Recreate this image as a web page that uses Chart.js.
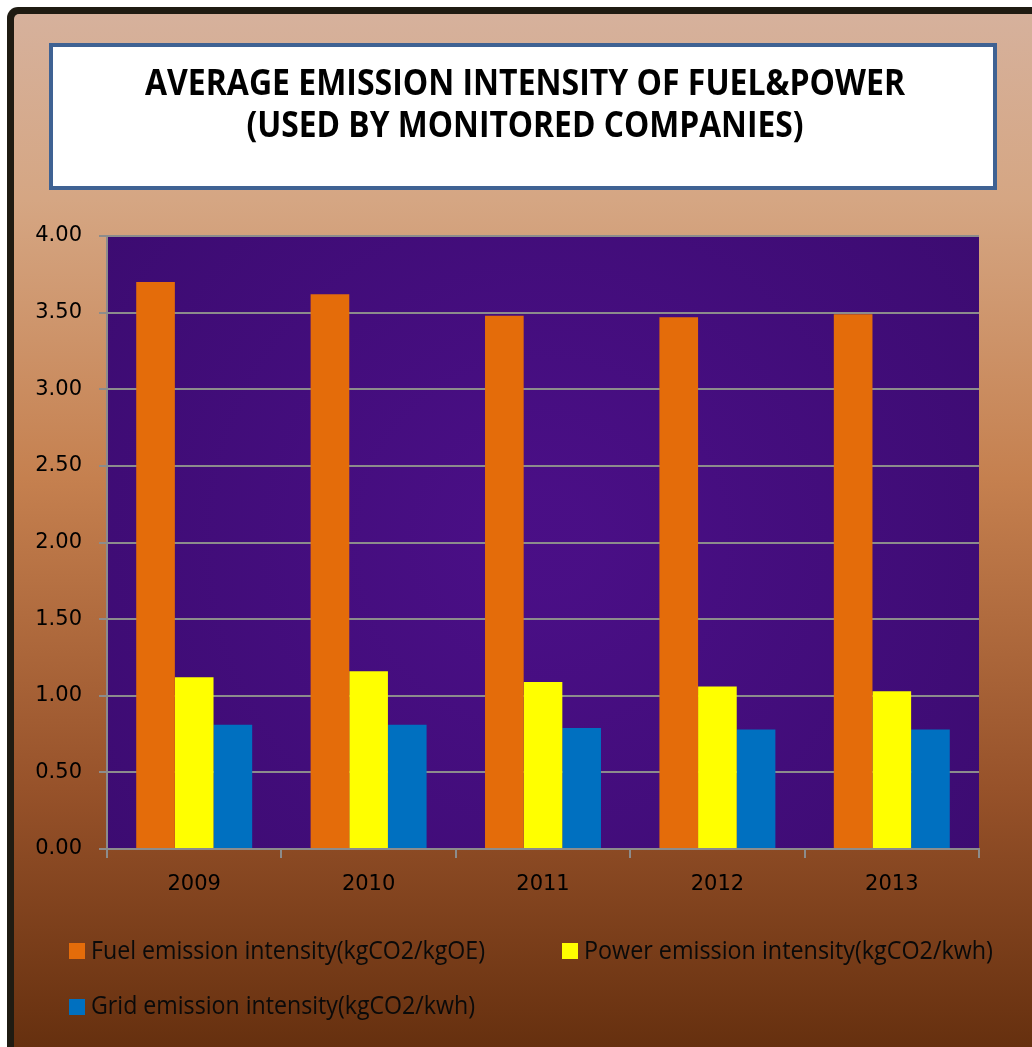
<!DOCTYPE html>
<html>
<head>
<meta charset="utf-8">
<script src="https://cdn.jsdelivr.net/npm/chart.js@4.4.0/dist/chart.umd.min.js"></script>
<style>
  html, body { margin: 0; padding: 0; background: #ffffff; }
  canvas { display: block; }
</style>
</head>
<body>
<canvas id="c" width="1032" height="1047"></canvas>
<script>
// ---- data ----
const years = ['2009', '2010', '2011', '2012', '2013'];
const fuelIntensity = [3.70, 3.62, 3.48, 3.47, 3.49];
const powerIntensity = [1.12, 1.16, 1.09, 1.06, 1.03];
const gridIntensity = [0.81, 0.81, 0.79, 0.78, 0.78];
const seriesNames = [
  'Fuel emission intensity(kgCO2/kgOE)',
  'Power emission intensity(kgCO2/kwh)',
  'Grid emission intensity(kgCO2/kwh)'
];
const titleLines = ['AVERAGE EMISSION INTENSITY OF FUEL&POWER', '(USED BY MONITORED COMPANIES)'];
const yTickMin = 0, yTickMax = 4, yTickStep = 0.5;

// ---- styles ----
const colors = ['#E46C0A', '#FFFF00', '#0070C0'];
const W = 1032, H = 1047;

const decor = {
  id: 'decor',
  beforeDraw(chart) {
    const ctx = chart.ctx;
    ctx.save();
    ctx.fillStyle = '#ffffff';
    ctx.fillRect(0, 0, W, H);
    // frame
    ctx.fillStyle = '#1F1B12';
    ctx.beginPath();
    ctx.roundRect(7, 7, W + 20, H + 20, [11, 0, 0, 0]);
    ctx.fill();
    const g = ctx.createLinearGradient(0, 14, 0, H);
    g.addColorStop(0, '#D6B19C');
    g.addColorStop(0.18, '#D5A683');
    g.addColorStop(0.45, '#C5804F');
    g.addColorStop(0.75, '#97522A');
    g.addColorStop(1, '#66300F');
    ctx.fillStyle = g;
    ctx.beginPath();
    ctx.roundRect(14, 14, W + 20, H + 20, [5, 0, 0, 0]);
    ctx.fill();
    // title box
    ctx.fillStyle = '#ffffff';
    ctx.fillRect(49, 43, 948, 147);
    ctx.strokeStyle = '#3F6293';
    ctx.lineWidth = 4;
    ctx.strokeRect(51, 45, 944, 143);
    // plot area
    const a = chart.chartArea;
    ctx.fillStyle = '#440D80';
    ctx.fillRect(a.left, a.top, a.right - a.left, a.bottom - a.top);
    const rg = ctx.createRadialGradient((a.left + a.right) / 2, (a.top + a.bottom) / 2, 50, (a.left + a.right) / 2, (a.top + a.bottom) / 2, 600);
    rg.addColorStop(0, 'rgba(90,20,150,0.25)');
    rg.addColorStop(1, 'rgba(30,5,60,0.25)');
    ctx.fillStyle = rg;
    ctx.fillRect(a.left, a.top, a.right - a.left, a.bottom - a.top);
    ctx.restore();
  },
  afterDraw(chart) {
    const ctx = chart.ctx;
    ctx.save();
    // title
    ctx.fillStyle = '#000000';
    ctx.font = 'bold 35px "Open Sans"';
    ctx.textAlign = 'center';
    ctx.textBaseline = 'alphabetic';
    const tW = [760, 557], tY = [95, 137];
    titleLines.forEach((t, i) => {
      const w = ctx.measureText(t).width;
      ctx.save();
      ctx.translate(525, tY[i]);
      ctx.scale(tW[i] / w, 1);
      ctx.fillText(t, 0, 0);
      ctx.restore();
    });
    // legend
    ctx.font = '25px "Open Sans"';
    ctx.textAlign = 'left';
    const items = [
      { bx: 69, by: 943, tx: 91, ty: 959, tw: 394 },
      { bx: 562, by: 943, tx: 584, ty: 959, tw: 409 },
      { bx: 69, by: 999, tx: 91, ty: 1014, tw: 384 }
    ];
    chart.data.datasets.forEach((ds, i) => {
      const it = items[i];
      ctx.fillStyle = ds.backgroundColor;
      ctx.fillRect(it.bx, it.by, 16, 16);
      ctx.fillStyle = '#0A0A0A';
      const w = ctx.measureText(ds.label).width;
      ctx.save();
      ctx.translate(it.tx, it.ty);
      ctx.scale(it.tw / w, 1);
      ctx.fillText(ds.label, 0, 0);
      ctx.restore();
    });
    ctx.restore();
  }
};

const tickFont = { family: '"DejaVu Sans"', size: 21 };

new Chart(document.getElementById('c'), {
  type: 'bar',
  data: {
    labels: years,
    datasets: [
      { label: seriesNames[0], data: fuelIntensity, backgroundColor: colors[0] },
      { label: seriesNames[1], data: powerIntensity, backgroundColor: colors[1] },
      { label: seriesNames[2], data: gridIntensity, backgroundColor: colors[2] }
    ]
  },
  options: {
    responsive: false,
    animation: false,
    devicePixelRatio: 1,
    datasets: { bar: { categoryPercentage: 0.665, barPercentage: 1.0 } },
    layout: { padding: { left: 0, right: 53, top: 236, bottom: 0 } },
    plugins: { legend: { display: false }, title: { display: false }, tooltip: { enabled: false } },
    scales: {
      x: {
        grid: { display: true, drawOnChartArea: false, drawTicks: true, tickLength: 9, color: '#8C8C8C', lineWidth: 2, offset: true },
        border: { color: '#8C8C8C', width: 2 },
        ticks: { color: '#000000', font: tickFont, padding: 14 },
        afterFit(s) { s.height = 198; }
      },
      y: {
        min: yTickMin, max: yTickMax,
        ticks: { stepSize: yTickStep, callback: v => Number(v).toFixed(2), color: '#000000', font: tickFont, padding: 17 },
        grid: { color: '#8C8C8C', lineWidth: 2, tickLength: 8 },
        border: { color: '#8C8C8C', width: 2 },
        afterFit(s) { s.width = 107; }
      }
    }
  },
  plugins: [decor]
});
</script>
</body>
</html>
